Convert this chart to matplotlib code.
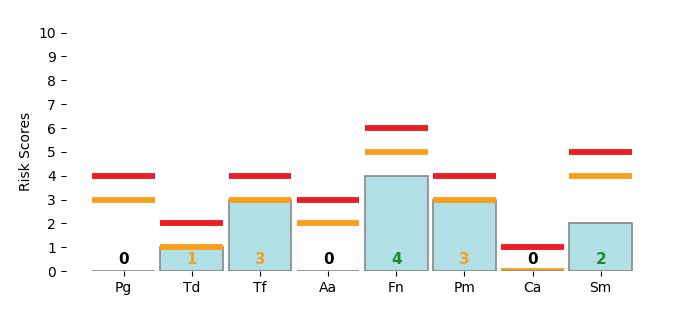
import matplotlib
matplotlib.use("Agg")
import matplotlib.pyplot as plt
import numpy as np

categories = ["Pg", "Td", "Tf", "Aa", "Fn", "Pm", "Ca", "Sm"]
scores = [0, 1, 3, 0, 4, 3, 0, 2]
orange_thresholds = [3, 1, 3, 2, 5, 3, 0, 4]
red_thresholds = [4, 2, 4, 3, 6, 4, 1, 5]
yticks = list(range(0, 11))

fig = plt.figure(figsize=(6.78, 3.33), dpi=100)
ax = fig.add_axes([0.097, 0.186, 0.88, 0.716])

x = np.arange(len(categories))
w = 0.92
ax.bar(x, scores, width=w, color="#b0e0e6", edgecolor="#888888", linewidth=1.2, zorder=2)
for xi, o, r in zip(x, orange_thresholds, red_thresholds):
    ax.hlines(o, xi - w / 2, xi + w / 2, color="#f9a01b", linewidth=4.2,
              zorder=3 if o > 0 else 1)
    ax.hlines(r, xi - w / 2, xi + w / 2, color="#ee1c25", linewidth=4.2, zorder=3)

for xi, s, o in zip(x, scores, orange_thresholds):
    if s == 0:
        c = "black"
    elif s >= o:
        c = "#f9a01b"
    else:
        c = "#1a8a2a"
    ax.text(xi, 0.15, str(s), ha="center", va="bottom", fontsize=11,
            fontweight="bold", color=c, zorder=4)

ax.set_xlim(-0.85, 7.905)
ax.set_ylim(0, 10)
ax.set_yticks(yticks)
ax.set_xticks(x)
ax.set_xticklabels(categories, fontsize=10)
ax.tick_params(axis="y", labelsize=10)
ax.set_ylabel("Risk Scores", fontsize=10)
for s in ax.spines.values():
    s.set_visible(False)

fig.savefig("out.png", dpi=100)
